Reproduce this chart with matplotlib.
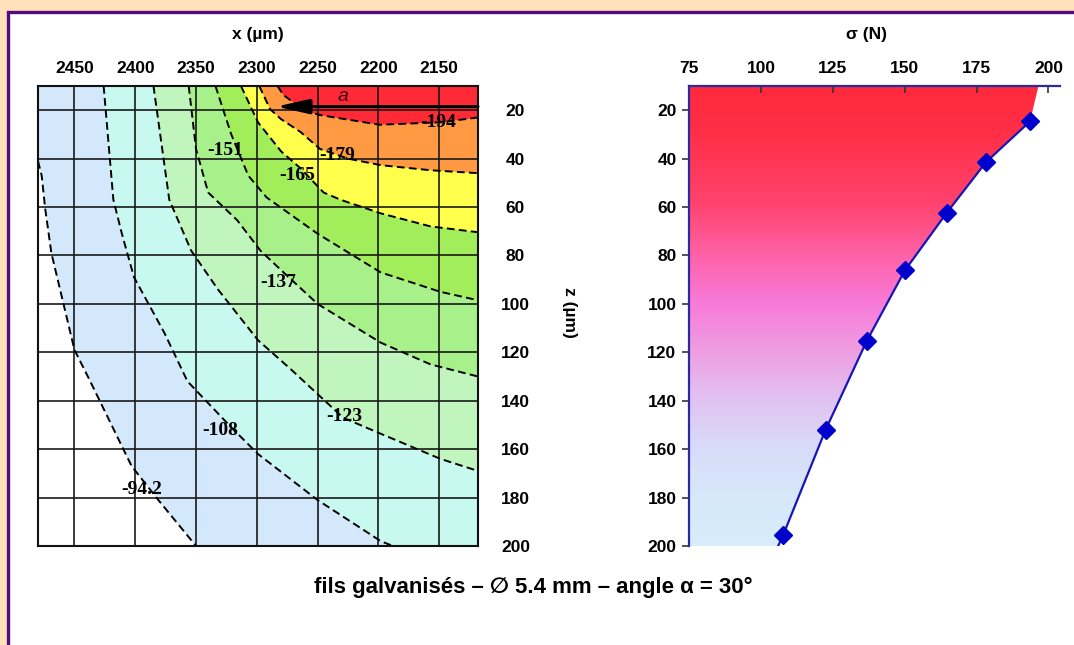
import numpy as np
import matplotlib
matplotlib.use("Agg")
import matplotlib.pyplot as plt
from matplotlib.patches import Rectangle, Polygon
from matplotlib.colors import LinearSegmentedColormap

plt.rcParams['font.family'] = ['Liberation Sans', 'DejaVu Sans']
plt.rcParams['font.weight'] = 'bold'

W, H = 1074, 645

# ---- left panel: isolines of sigma, x (um) and z (um) ----
levels = [-94.2, -108, -123, -137, -151, -165, -179, -194]

iso_942_x = [2480, 2477, 2474, 2469, 2450, 2438, 2403, 2381, 2350]
iso_942_z = [41, 47, 61, 79, 119, 131, 167, 181, 200]
iso_108_x = [2426, 2418, 2411, 2401, 2376, 2357, 2321, 2299, 2250, 2198, 2188]
iso_108_z = [10, 57, 71, 89, 112, 132, 151, 162, 181, 198, 200]
iso_123_x = [2385, 2372, 2354, 2332, 2299, 2272, 2229, 2201, 2149, 2118]
iso_123_z = [10, 57, 78, 94, 115, 127, 147, 153, 164, 169]
iso_137_x = [2356, 2350, 2340, 2316, 2297, 2278, 2250, 2198, 2157, 2118]
iso_137_z = [10, 36, 54, 65.5, 78, 87, 100, 116, 125, 130]
iso_151_x = [2334, 2321, 2307, 2292, 2250, 2198, 2149, 2118]
iso_151_z = [10, 30, 47, 56, 71, 87, 95, 98.5]
iso_165_x = [2313, 2299, 2280, 2264, 2245, 2231, 2198, 2157, 2118]
iso_165_z = [10, 25, 37, 44, 54, 57, 62.6, 68, 70.4]
iso_179_x = [2298, 2289, 2280, 2264, 2248, 2225, 2198, 2157, 2118]
iso_179_z = [10, 19.6, 23.7, 29, 36, 40, 42.7, 44.8, 46]
iso_194_x = [2283, 2278, 2270, 2264, 2248, 2199, 2149, 2118]
iso_194_z = [10, 13.8, 16.7, 19.6, 22, 26, 25, 23]

iso_x = [iso_942_x, iso_108_x, iso_123_x, iso_137_x, iso_151_x, iso_165_x, iso_179_x, iso_194_x]
iso_z = [iso_942_z, iso_108_z, iso_123_z, iso_137_z, iso_151_z, iso_165_z, iso_179_z, iso_194_z]

# label positions of each isoline
label_x = [2395, 2330, 2228, 2282, 2326, 2267, 2234, 2151]
label_z = [176.6, 152.2, 146.4, 91.1, 36.5, 46.9, 38.6, 25]

# marker "a" arrow
arrow_x = [2118, 2284]
arrow_z = 18.5
a_x, a_z = 2229, 14.2

# colour of the zone more negative than each level
band_colors = ['#D3E8FA', '#C8F9F0', '#C1F5BE', '#A7F08A', '#A2EE5A',
               '#FFFF4C', '#FF9A42', '#FF2A36']

# ---- right panel: sigma (N) versus depth z (um) ----
sigma_pts = [193.6, 178.3, 164.6, 150.1, 136.8, 122.5, 107.7]
z_pts = [24.6, 41.4, 62.4, 86.1, 115.3, 152.0, 195.6]
sigma_top_edge = 196.5
sigma_bottom_edge = 106

fig = plt.figure(figsize=(W / 100, H / 100), dpi=100)
fig.patch.set_facecolor('#FFE1BA')
fig.add_artist(Rectangle((8 / W, -0.1), 1.2, 1.1 - 12 / H, transform=fig.transFigure,
                         facecolor='white', edgecolor='#560A80', lw=2.4, zorder=-5))

# ================= left panel =================
xl, xr, zt, zb = 2480, 2118, 10, 200
ax = fig.add_axes([38 / W, (H - 546) / H, 440 / W, 460 / H])
ax.set_facecolor('white')

for xs, zs, col in zip(iso_x, iso_z, band_colors):
    px, pz = list(xs), list(zs)
    if pz[-1] >= zb:
        px.append(xr); pz.append(zb)
    px.append(xr); pz.append(zt)
    if px[0] >= xl:
        px.append(xl); pz.append(zt)
    ax.fill(px, pz, color=col, lw=0, zorder=1)

for xs, zs in zip(iso_x, iso_z):
    ax.plot(xs, zs, color='black', lw=1.4, dashes=(4, 2.2), zorder=3)

for lv, lx, lz in zip(levels, label_x, label_z):
    ax.text(lx, lz, '%g' % lv, family=['Liberation Serif', 'DejaVu Serif'],
            fontsize=14, fontweight='bold', ha='center', va='center', zorder=4)

ax.annotate('', xy=(arrow_x[1], arrow_z), xytext=(arrow_x[0], arrow_z),
            arrowprops=dict(arrowstyle='-|>,head_length=2.0,head_width=0.45',
                            color='black', lw=2.2, shrinkA=0, shrinkB=0), zorder=5)
ax.text(a_x, a_z, 'a', style='italic', fontweight='normal', fontsize=14,
        color='#3C0A14', ha='center', va='center', zorder=5)

ax.set_xlim(xl, xr)
ax.set_ylim(zb, zt)
ax.set_xticks([2450, 2400, 2350, 2300, 2250, 2200, 2150])
ax.set_yticks(range(20, 201, 20))
ax.xaxis.tick_top()
ax.yaxis.tick_right()
ax.tick_params(length=0, labelsize=12.5)
ax.tick_params(axis='x', pad=7)
ax.tick_params(axis='y', pad=27)
for lab in ax.get_yticklabels():
    lab.set_horizontalalignment('center')
ax.grid(True, color='#1a1a1a', lw=1.2)
ax.set_axisbelow(False)
for s in ax.spines.values():
    s.set_color('#111111')
    s.set_linewidth(1.5)
    s.set_zorder(6)

fig.text(258 / W, 1 - 35 / H, 'x (µm)', ha='center', va='center', fontsize=12.5)
fig.text(570 / W, 1 - 312 / H, 'z (µm)', ha='center', va='center', fontsize=12.5,
         rotation=-90)

# ================= right panel =================
ax2 = fig.add_axes([689 / W, (H - 546) / H, 371 / W, 460 / H])
grad_pos = [0, 0.1, 0.25, 0.36, 0.47, 0.58, 0.68, 0.79, 0.89, 1.0]
grad_col = ['#FF2A3C', '#FF2F46', '#FF426C', '#FF60A4', '#F87AD8', '#EE9FE2',
            '#E2C2F2', '#D8DCF8', '#D6E8FA', '#D8ECFA']
cmap = LinearSegmentedColormap.from_list('depth', list(zip(grad_pos, grad_col)))
grad = np.linspace(0, 1, 256).reshape(-1, 1)
img = ax2.imshow(grad, extent=(75, 204, 200, 10), origin='upper', cmap=cmap,
                 aspect='auto', zorder=1)
poly_x = [75, sigma_top_edge] + sigma_pts + [sigma_bottom_edge, 75]
poly_z = [10, 10] + z_pts + [200, 200]
clip = Polygon(np.column_stack([poly_x, poly_z]), closed=True, facecolor='none',
               edgecolor='none', transform=ax2.transData)
ax2.add_patch(clip)
img.set_clip_path(clip)

ax2.plot(sigma_pts + [sigma_bottom_edge], z_pts + [200], color='#1616B8', lw=1.6, zorder=3)
ax2.plot(sigma_pts, z_pts, 'D', color='#0000CC', ms=9, zorder=4)

ax2.set_xlim(75, 204)
ax2.set_ylim(200, 10)
ax2.set_xticks([75, 100, 125, 150, 175, 200])
ax2.set_yticks(range(20, 201, 20))
ax2.xaxis.tick_top()
ax2.tick_params(axis='x', direction='in', length=5, width=1.2, color='#333333',
                pad=7, labelsize=12.5)
ax2.tick_params(axis='y', direction='out', length=5, width=1.2, color='#333333',
                pad=4, labelsize=12.5)
ax2.spines['right'].set_visible(False)
ax2.spines['bottom'].set_visible(False)
for k in ['top', 'left']:
    ax2.spines[k].set_color('#2A2AA0')
    ax2.spines[k].set_linewidth(1.6)
ax2.set_facecolor('white')

fig.text(866 / W, 1 - 35 / H, 'σ (N)', ha='center', va='center', fontsize=12.5)
fig.text(533 / W, 1 - 587 / H, 'fils galvanisés – ∅ 5.4 mm – angle α = 30°',
         ha='center', va='center', fontsize=16)

fig.savefig('out.png', dpi=100)
